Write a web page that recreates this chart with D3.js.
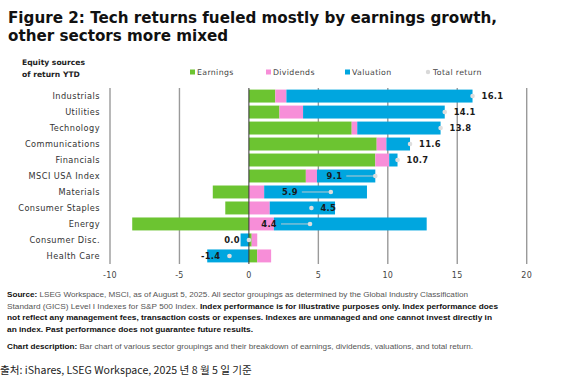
<!DOCTYPE html>
<html>
<head>
<meta charset="utf-8">
<script src="https://cdn.jsdelivr.net/npm/d3@7"></script>
<style>
  body { margin: 0; background: #fff; }
  svg { display: block; }
</style>
</head>
<body>
<script>
// 섹터별 수익 요인 (YTD, %)
var categories = ["Industrials", "Utilities", "Technology", "Communications", "Financials",
                  "MSCI USA Index", "Materials", "Consumer Staples", "Energy", "Consumer Disc.", "Health Care"];
var earnings  = [1.9, 2.2, 7.4, 9.2, 9.1, 4.1, -2.6, -1.7, -8.4, 0.2, 0.6];
var dividends = [0.8, 1.7, 0.4, 0.7, 1.0, 0.8, 1.1, 1.5, 1.8, 0.4, 1.0];
var valuation = [13.4, 10.2, 6.0, 1.7, 0.6, 4.2, 7.4, 4.7, 11.0, -0.6, -3.0];
var totals    = [16.1, 14.1, 13.8, 11.6, 10.7, 9.1, 5.9, 4.5, 4.4, 0.0, -1.4];
var xTicks    = [-10, -5, 0, 5, 10, 15, 20];
var seriesNames = ["Earnings", "Dividends", "Valuation"];

// 라벨이 막대 안쪽 왼쪽에 붙는 항목 (연결선 있음)
var callouts = ["MSCI USA Index", "Materials", "Energy"];

var W = 561, H = 391;
var colors = {"Earnings": "#6cc431", "Dividends": "#f78ed8", "Valuation": "#00a6df"};

var svg = d3.select("body").append("svg")
            .attr("width", W)
            .attr("height", H);

var x = d3.scaleLinear().domain([-10, 20]).range([110, 526.7]);
var y = d3.scaleBand().domain(categories).range([88, 264])
          .paddingInner(0.19).paddingOuter(0.1);

var rows = categories.map(function(c, i) {
  return {cat: c, Earnings: earnings[i], Dividends: dividends[i], Valuation: valuation[i], total: totals[i]};
});

//////////////////////////// 제목 ////////////////////////////
svg.append("text")
   .attr("x", 8).attr("y", 23)
   .attr("textLength", 489).attr("lengthAdjust", "spacingAndGlyphs")
   .style("font-family", "'DejaVu Sans', sans-serif")
   .style("font-weight", "bold").style("font-size", "16px").style("fill", "#111")
   .text("Figure 2: Tech returns fueled mostly by earnings growth,");
svg.append("text")
   .attr("x", 8).attr("y", 41)
   .attr("textLength", 220).attr("lengthAdjust", "spacingAndGlyphs")
   .style("font-family", "'DejaVu Sans', sans-serif")
   .style("font-weight", "bold").style("font-size", "16px").style("fill", "#111")
   .text("other sectors more mixed");

svg.selectAll("text.ytitle")
   .data(["Equity sources", "of return YTD"])
   .enter().append("text")
   .attr("class", "ytitle")
   .attr("x", 22).attr("y", function(d, i) { return 65 + i * 12; })
   .style("font-family", "'DejaVu Sans', sans-serif")
   .style("font-weight", "bold").style("font-size", "7.6px").style("fill", "#222")
   .text(function(d) { return d; });

//////////////////////////// 범례 ////////////////////////////
var legendX = [190, 266, 345, 426];
var legendItems = seriesNames.concat(["Total return"]);
var lg = svg.selectAll("g.legend")
   .data(legendItems)
   .enter().append("g")
   .attr("class", "legend")
   .attr("transform", function(d, i) { return "translate(" + legendX[i] + ",72)"; });
lg.filter(function(d) { return d !== "Total return"; })
  .append("rect")
  .attr("x", 0).attr("y", -2.5).attr("width", 5).attr("height", 5)
  .attr("fill", function(d) { return colors[d]; });
lg.filter(function(d) { return d === "Total return"; })
  .append("circle")
  .attr("cx", 2).attr("cy", 0).attr("r", 2.2).attr("fill", "#d9d9d9");
lg.append("text")
  .attr("x", 7).attr("y", 2.8)
  .style("font-family", "'DejaVu Sans', sans-serif")
  .style("font-size", "7.8px").style("letter-spacing", "0.35px").style("fill", "#444")
  .text(function(d) { return d; });

//////////////////////////// 격자 ////////////////////////////
svg.selectAll("line.grid")
   .data(xTicks.filter(function(t) { return t !== 0; }))
   .enter().append("line")
   .attr("class", "grid")
   .attr("x1", function(d) { return x(d); }).attr("x2", function(d) { return x(d); })
   .attr("y1", 88).attr("y2", 264)
   .style("stroke", "#9a9a9a").style("stroke-width", 1.4);

svg.selectAll("text.tick")
   .data(xTicks)
   .enter().append("text")
   .attr("class", "tick")
   .attr("x", function(d) { return x(d); }).attr("y", 278)
   .attr("text-anchor", "middle")
   .style("font-family", "'DejaVu Sans', sans-serif")
   .style("font-size", "8px").style("letter-spacing", "0.3px").style("fill", "#444")
   .text(function(d) { return d; });

//////////////////////////// 막대 ////////////////////////////
var stacked = d3.stack().keys(seriesNames).offset(d3.stackOffsetDiverging)(rows);

svg.selectAll("g.series")
   .data(stacked)
   .enter().append("g")
   .attr("class", "series")
   .attr("fill", function(d) { return colors[d.key]; })
   .selectAll("rect")
   .data(function(d) { return d; })
   .enter().append("rect")
   .attr("x", function(d) { return x(Math.min(d[0], d[1])); })
   .attr("width", function(d) { return Math.abs(x(d[1]) - x(d[0])); })
   .attr("y", function(d) { return y(d.data.cat); })
   .attr("height", y.bandwidth());

// 0 기준선
svg.append("line")
   .attr("x1", x(0)).attr("x2", x(0))
   .attr("y1", 88).attr("y2", 264)
   .style("stroke", "#333").style("stroke-width", 1);

svg.selectAll("text.cat")
   .data(categories)
   .enter().append("text")
   .attr("class", "cat")
   .attr("x", 100)
   .attr("y", function(d) { return y(d) + y.bandwidth() / 2 + 3; })
   .attr("text-anchor", "end")
   .style("font-family", "'DejaVu Sans', sans-serif")
   .style("font-size", "8.2px").style("letter-spacing", "0.45px").style("fill", "#333")
   .text(function(d) { return d; });

//////////////////////////// 총수익 점/라벨 ////////////////////////////
var cy = function(d) { return y(d.cat) + y.bandwidth() / 2; };

svg.selectAll("line.callout")
   .data(rows.filter(function(d) { return callouts.indexOf(d.cat) >= 0; }))
   .enter().append("line")
   .attr("class", "callout")
   .attr("x1", function(d) { return x(d.total) - 29; })
   .attr("x2", function(d) { return x(d.total); })
   .attr("y1", cy).attr("y2", cy)
   .style("stroke", "#cfcfcf").style("stroke-width", 0.9);

svg.selectAll("circle.total")
   .data(rows)
   .enter().append("circle")
   .attr("class", "total")
   .attr("cx", function(d) { return x(d.total); })
   .attr("cy", cy)
   .attr("r", 2.3)
   .attr("fill", "#dedede");

svg.selectAll("text.total")
   .data(rows)
   .enter().append("text")
   .attr("class", "total")
   .attr("x", function(d) {
     if (callouts.indexOf(d.cat) >= 0) return x(d.total) - 33;
     if (d.total <= 0) return x(d.total) - 9;
     return x(d.total) + 9;
   })
   .attr("y", function(d) { return cy(d) + 3.3; })
   .attr("text-anchor", function(d) {
     return (callouts.indexOf(d.cat) >= 0 || d.total <= 0) ? "end" : "start";
   })
   .style("font-family", "'DejaVu Sans', sans-serif")
   .style("font-weight", "bold").style("font-size", "8.4px").style("letter-spacing", "0.3px")
   .style("fill", "#1a1a1a")
   .text(function(d) { return d.total.toFixed(1); });

//////////////////////////// 각주 ////////////////////////////
var noteLines = [
  [["Source:", true], [" LSEG Workspace, MSCI, as of August 5, 2025. All sector groupings as determined by the Global Industry Classification", false]],
  [["Standard (GICS) Level I Indexes for S&P 500 Index. ", false], ["Index performance is for illustrative purposes only. Index performance does", true]],
  [["not reflect any management fees, transaction costs or expenses. Indexes are unmanaged and one cannot invest directly in", true]],
  [["an index. Past performance does not guarantee future results.", true]],
  [["Chart description:", true], [" Bar chart of various sector groupings and their breakdown of earnings, dividends, valuations, and total return.", false]]
];
var noteY = [297, 308.5, 320, 331.5, 349];
var noteLen = [461, 491, 485, 246, 466];

var notes = svg.selectAll("text.note")
   .data(noteLines)
   .enter().append("text")
   .attr("class", "note")
   .attr("x", 7)
   .attr("y", function(d, i) { return noteY[i]; })
   .attr("textLength", function(d, i) { return noteLen[i]; })
   .attr("lengthAdjust", "spacingAndGlyphs")
   .style("font-family", "'Liberation Sans', Arial, sans-serif")
   .style("font-size", "7px");
notes.selectAll("tspan")
   .data(function(d) { return d; })
   .enter().append("tspan")
   .style("font-weight", function(d) { return d[1] ? "bold" : "normal"; })
   .style("fill", function(d) { return d[1] ? "#111" : "#555"; })
   .text(function(d) { return d[0]; });

svg.append("text")
   .attr("x", 0).attr("y", 374)
   .style("font-family", "'Noto Sans CJK KR', 'Noto Sans', sans-serif")
   .style("font-size", "10.6px").style("fill", "#222")
   .text("출처: iShares, LSEG Workspace, 2025 년 8 월 5 일 기준");
</script>
</body>
</html>
